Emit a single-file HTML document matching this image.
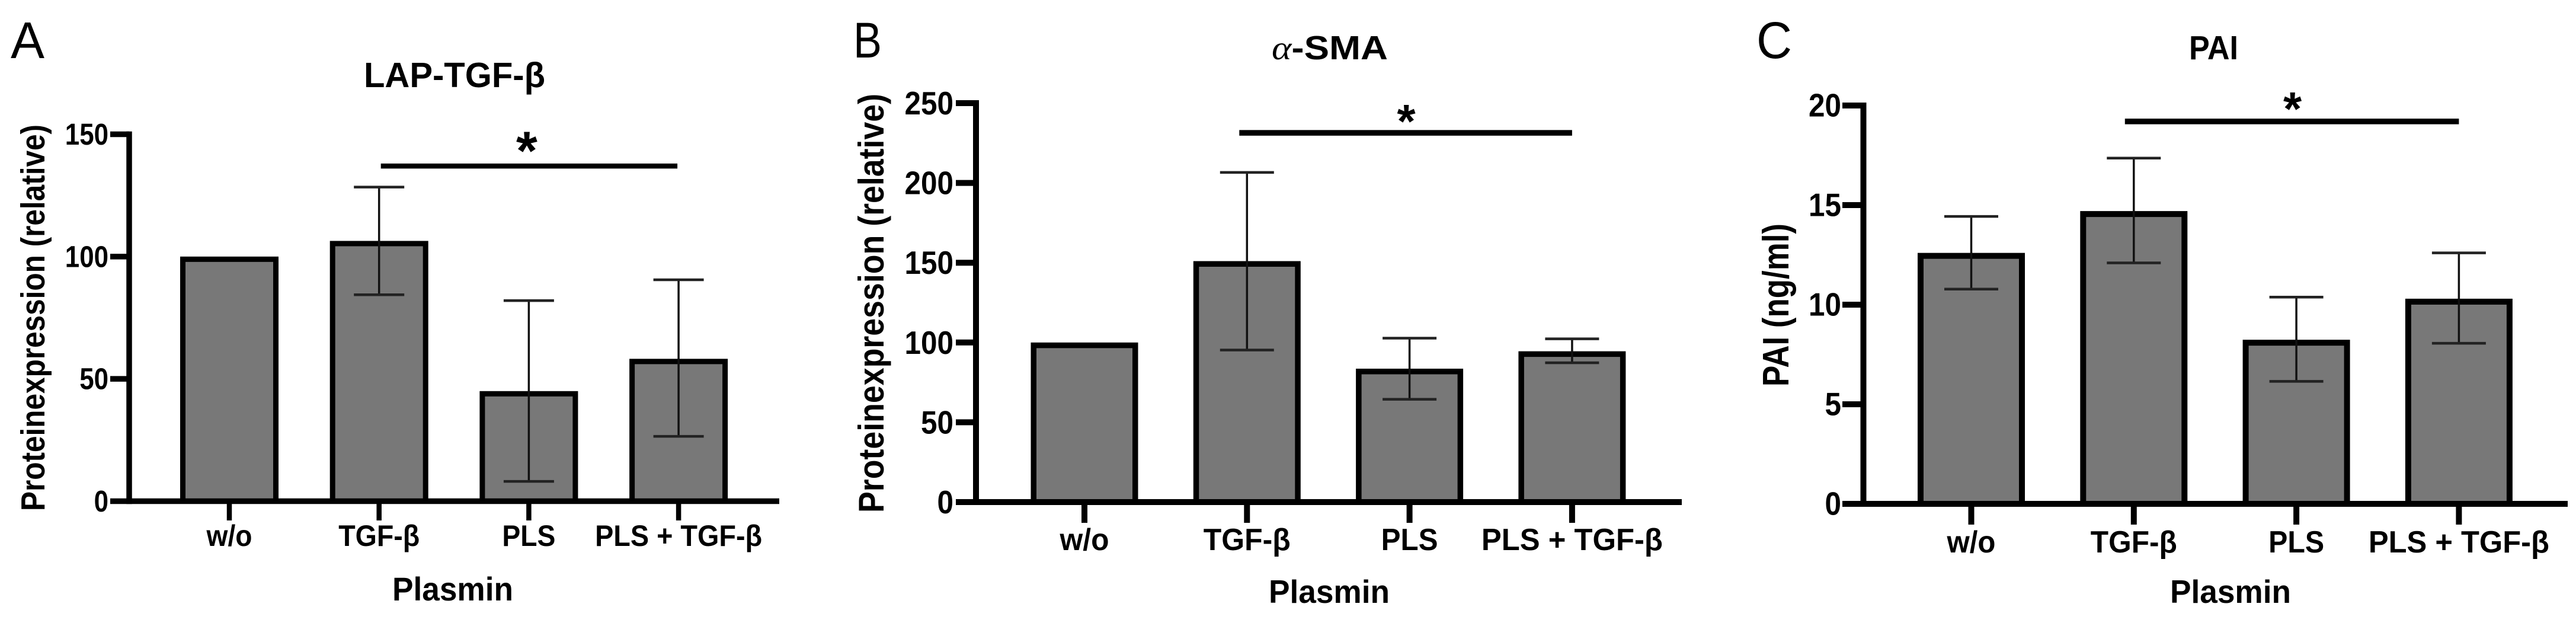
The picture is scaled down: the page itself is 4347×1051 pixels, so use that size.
<!DOCTYPE html>
<html lang="en">
<head>
<meta charset="utf-8">
<title>Protein expression bar charts</title>
<style>
html,body{margin:0;padding:0;background:#fff;}
svg{display:block;}
text{font-family:"Liberation Sans",sans-serif;fill:#000;}
.b{font-weight:bold;}
</style>
</head>
<body>
<svg id="figure" xmlns="http://www.w3.org/2000/svg" width="4347" height="1051" viewBox="0 0 4347 1051">
  <rect x="0" y="0" width="4347" height="1051" fill="#fff"/>

  <text x="18" y="98" font-size="87" textLength="57" lengthAdjust="spacingAndGlyphs">A</text>
  <text class="b" x="614" y="147" font-size="59" textLength="306" lengthAdjust="spacingAndGlyphs">LAP-TGF-β</text>
  <text class="b" x="662" y="1013" font-size="56" textLength="204" lengthAdjust="spacingAndGlyphs">Plasmin</text>
  <text class="b" transform="translate(75,862) rotate(-90)" font-size="57" textLength="652" lengthAdjust="spacingAndGlyphs">Proteinexpression (relative)</text>

  <text x="1440" y="97" font-size="84" textLength="48" lengthAdjust="spacingAndGlyphs">B</text>
  <text class="b" x="2146" y="100" font-size="57" textLength="196" lengthAdjust="spacingAndGlyphs"><tspan style="font-family:'Liberation Serif',serif;font-style:italic;font-weight:normal">α</tspan>-SMA</text>
  <text class="b" x="2141" y="1017" font-size="55" textLength="204" lengthAdjust="spacingAndGlyphs">Plasmin</text>
  <text class="b" transform="translate(1491,865) rotate(-90)" font-size="60" textLength="707" lengthAdjust="spacingAndGlyphs">Proteinexpression (relative)</text>

  <text x="2964" y="98" font-size="87" textLength="60" lengthAdjust="spacingAndGlyphs">C</text>
  <text class="b" x="3694" y="100" font-size="57" textLength="83" lengthAdjust="spacingAndGlyphs">PAI</text>
  <text class="b" x="3662" y="1017" font-size="55" textLength="204" lengthAdjust="spacingAndGlyphs">Plasmin</text>
  <text class="b" transform="translate(3018,652) rotate(-90)" font-size="62" textLength="275" lengthAdjust="spacingAndGlyphs">PAI (ng/ml)</text>
</svg>

<script>
const categories = ['w/o', 'TGF-β', 'PLS', 'PLS + TGF-β'];

const lapTicks = [0, 50, 100, 150];
const lapValues = [100, 106.4, 45, 58.2];
const lapErrHigh = [null, 128.4, 82, 90.5];
const lapErrLow = [null, 84.4, 8.1, 26.5];
const lapSigLevel = 137;

const smaTicks = [0, 50, 100, 150, 200, 250];
const smaValues = [100, 151, 83.6, 94.5];
const smaErrHigh = [null, 206.6, 102.7, 102.3];
const smaErrLow = [null, 95.3, 64.4, 87.3];
const smaSigLevel = 231.4;

const paiTicks = [0, 5, 10, 15, 20];
const paiValues = [12.6, 14.7, 8.24, 10.3];
const paiErrHigh = [14.43, 17.36, 10.38, 12.6];
const paiErrLow = [10.78, 12.1, 6.15, 8.06];
const paiSigLevel = 19.2;

const NS = 'http://www.w3.org/2000/svg';
const figure = document.getElementById('figure');

function make(tag, attrs, parent) {
  const el = document.createElementNS(NS, tag);
  for (const k in attrs) el.setAttribute(k, attrs[k]);
  parent.appendChild(el);
  return el;
}

function drawChart(id, ticks, values, errHigh, errLow, sigLevel, L) {
  const yMax = ticks[ticks.length - 1];
  const yScale = v => L.y0 - (v / yMax) * (L.y0 - L.yTop);
  const xScale = i => L.x0 + i * L.step;

  const group = make('g', {}, figure);
  
  

  values.forEach((v, i) => {
    const top = yScale(v);
    const bar = make('rect', {
      x: xScale(i) - L.barW / 2 + L.barS / 2,
      y: top + L.barS / 2,
      width: L.barW - L.barS,
      height: Math.max(0, L.y0 - top - L.barS / 2),
      fill: '#787878',
      stroke: '#000',
      'stroke-width': L.barS
    }, group);
    
    
  });

  values.forEach((v, i) => {
    if (errHigh[i] === null || errLow[i] === null) return;
    const cx = xScale(i);
    const hi = yScale(errHigh[i]);
    const lo = yScale(errLow[i]);
    const stem = make('line', { x1: cx, x2: cx, y1: hi, y2: lo, stroke: '#111', 'stroke-width': 3.5 }, group);
    
    
    const capHi = make('line', { x1: cx - L.capW / 2, x2: cx + L.capW / 2, y1: hi, y2: hi, stroke: '#222', 'stroke-width': 4.5 }, group);
    
    
    const capLo = make('line', { x1: cx - L.capW / 2, x2: cx + L.capW / 2, y1: lo, y2: lo, stroke: '#222', 'stroke-width': 4.5 }, group);
    
    
  });

  const yAxis = make('line', { x1: L.axisX, x2: L.axisX, y1: yScale(yMax) - L.axisS / 2, y2: L.y0 + L.axisS / 2, stroke: '#000', 'stroke-width': L.axisS }, group);
  
  

  const xAxis = make('line', { x1: L.axisX, x2: L.xEnd, y1: L.y0, y2: L.y0, stroke: '#000', 'stroke-width': L.axisS }, group);
  
  

  ticks.forEach(t => {
    const ty = yScale(t);
    const mark = make('line', { x1: L.tickLeft, x2: L.axisX, y1: ty, y2: ty, stroke: '#000', 'stroke-width': L.axisS }, group);
    
    
    const s = String(t);
    const label = make('text', {
      x: L.tickLabelX, y: ty + L.tickDy, 'font-size': L.tickFont, 'font-weight': 'bold', 'text-anchor': 'end',
      textLength: s.length * L.digitW, lengthAdjust: 'spacingAndGlyphs'
    }, group);
    label.textContent = s;
    
    
  });

  categories.forEach((c, i) => {
    const cx = xScale(i);
    const mark = make('line', { x1: cx, x2: cx, y1: L.y0, y2: L.xTickEnd, stroke: '#000', 'stroke-width': L.xTickS }, group);
    
    
    const label = make('text', {
      x: cx, y: L.catY, 'font-size': L.catFont, 'font-weight': 'bold', 'text-anchor': 'middle',
      textLength: L.catW[i], lengthAdjust: 'spacingAndGlyphs'
    }, group);
    label.textContent = c;
    
    
  });

  const sy = yScale(sigLevel);
  const sigBar = make('line', { x1: xScale(1) + L.sigPadL, x2: xScale(3) + L.sigPadR, y1: sy, y2: sy, stroke: '#000', 'stroke-width': L.sigS }, group);
  
  
  const star = make('text', { x: (xScale(1) + L.sigPadL + xScale(3) + L.sigPadR) / 2 + L.starDx, y: sy + L.starDy, 'font-size': L.starFont, 'font-weight': 'bold', 'text-anchor': 'middle' }, group);
  star.textContent = '*';
  
  
}

drawChart('a', lapTicks, lapValues, lapErrHigh, lapErrLow, lapSigLevel, {
  y0: 845.5, yTop: 226.5, x0: 387, step: 252.7, barW: 166, barS: 9, capW: 85,
  axisX: 218, axisS: 9.5, xEnd: 1315, tickLeft: 186, tickLabelX: 183, tickDy: 17.5, tickFont: 51, digitW: 24.4,
  xTickEnd: 878, xTickS: 8.5, catY: 921, catFont: 50, catW: [77, 137, 90, 282],
  sigPadL: 3, sigPadR: -2, sigS: 8.5, starDx: -4, starDy: 6, starFont: 92
});

drawChart('b', smaTicks, smaValues, smaErrHigh, smaErrLow, smaSigLevel, {
  y0: 847, yTop: 174, x0: 1830, step: 274.3, barW: 181, barS: 9.5, capW: 91,
  axisX: 1647, axisS: 10, xEnd: 2838, tickLeft: 1613, tickLabelX: 1609, tickDy: 19, tickFont: 55, digitW: 27.5,
  xTickEnd: 882, xTickS: 10, catY: 928, catFont: 52, catW: [83, 147, 96, 306],
  sigPadL: -13, sigPadR: 0, sigS: 9.5, starDx: 1, starDy: 8, starFont: 80
});

drawChart('c', paiTicks, paiValues, paiErrHigh, paiErrLow, paiSigLevel, {
  y0: 850, yTop: 178, x0: 3326.5, step: 274.3, barW: 181, barS: 10, capW: 91,
  axisX: 3144.5, axisS: 10, xEnd: 4333, tickLeft: 3109, tickLabelX: 3107, tickDy: 18.5, tickFont: 55, digitW: 27.5,
  xTickEnd: 885, xTickS: 10, catY: 932, catFont: 52, catW: [82, 146, 94, 305],
  sigPadL: -15, sigPadR: 0, sigS: 9.5, starDx: 1, starDy: 6, starFont: 80
});
</script>
</body>
</html>
